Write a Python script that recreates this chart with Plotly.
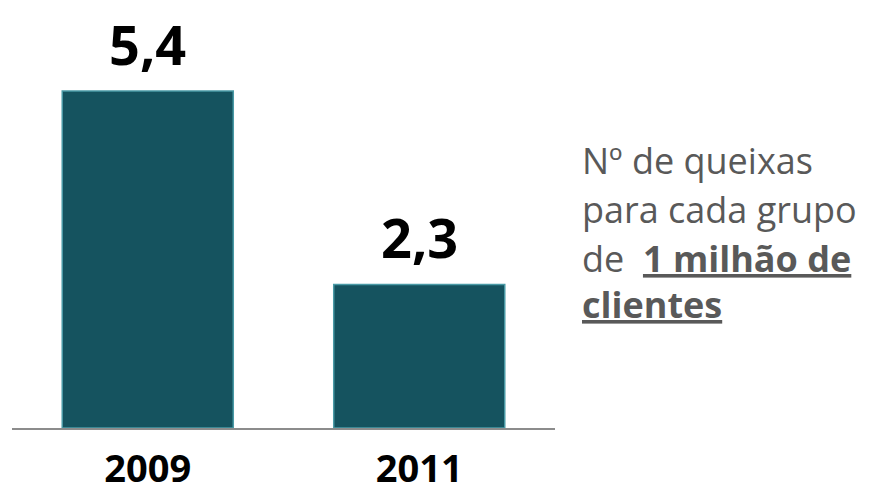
import plotly.graph_objects as go

# data
years = ["2009", "2011"]
queixas = [5.4, 2.3]
note_lines = [
    "Nº de queixas",
    "para cada grupo",
    "de  <b><u>1 milhão de</u></b>",
    "<b><u>clientes</u></b>",
]

FONT = "Open Sans"
BAR = "#15535F"

# page body has an 8px margin, so the figure is sized to fit inside it
W, H = 867, 484
BASE = 420  # baseline, figure pixels

fig = go.Figure()
fig.add_trace(go.Bar(
    x=years, y=queixas,
    marker=dict(color=BAR, line=dict(color="#4a9aa6", width=1.5)),
    hoverinfo="skip",
))

# value labels above bars (category index as x)
for i, v in enumerate(queixas):
    fig.add_annotation(
        x=i, y=v, text=f"{v:.1f}".replace(".", ","),
        xanchor="center", yanchor="bottom", yshift=8, showarrow=False,
        font=dict(family=FONT, size=54, color="#000000", weight="bold"),
    )

# side note, one annotation per line
line_y = [152, 202, 250, 297]
for txt, py in zip(note_lines, line_y):
    fig.add_annotation(
        text=txt, xref="paper", yref="paper",
        x=(572 - 4) / 543, y=(BASE - py) / BASE,
        xanchor="left", yanchor="middle", align="left", showarrow=False,
        font=dict(family=FONT, size=36, color="#595959"),
    )

fig.update_layout(
    width=W, height=H,
    margin=dict(l=4, r=320, t=0, b=H - BASE),
    paper_bgcolor="white", plot_bgcolor="white",
    bargap=0.37,
    showlegend=False,
    xaxis=dict(type="category", range=[-0.5, 1.5], showline=True,
               linecolor="#8c8c8c", linewidth=2,
               showgrid=False, automargin=False, ticks="",
               tickfont=dict(family=FONT, size=38, color="#000000", weight="bold"),
               ticklabelstandoff=6),
    yaxis=dict(range=[0, 6.73], visible=False, showgrid=False, zeroline=False,
               automargin=False),
)

fig.write_html("out.html")
